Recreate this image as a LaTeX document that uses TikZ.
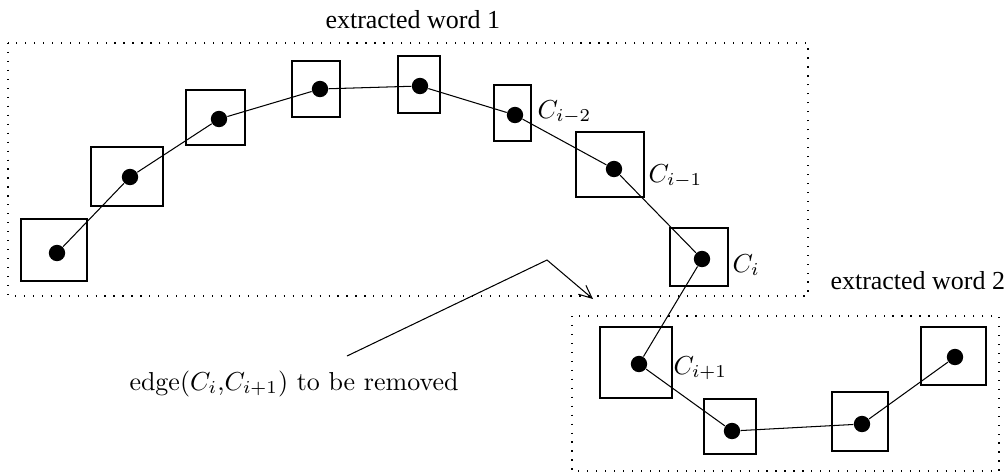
\documentclass[tikz,border=0pt]{standalone}
\usepackage{amsmath, amssymb}
\usepackage{fontspec}
\newfontfamily\timesfont{Liberation Serif}
\usetikzlibrary{arrows.meta}

\begin{document}
\begin{tikzpicture}[x=0.385pt, y=-0.385pt,
    box/.style 2 args={draw, minimum width=#1*0.385pt, minimum height=#2*0.385pt},
    dot/.style={circle, fill, inner sep=0pt, minimum size=6.3pt},
    wordbox/.style={line width=0.45pt, dash pattern=on 0.45pt off 3pt},
    lbl/.style={anchor=base west, inner sep=0pt}]
  \useasboundingbox (0,0) rectangle (1007,474);

  % extracted word 1
  \draw[wordbox] (8,43) rectangle (808,296);
  \node[lbl, font=\timesfont] (t1) at (325,28) {extracted word 1};
  \node[box={66}{62}] (b1) at (54,250) {};
  \node[box={72}{59}] (b2) at (127,176.5) {};
  \node[box={59}{55}] (b3) at (215.5,117.5) {};
  \node[box={48}{56}] (b4) at (316,89) {};
  \node[box={42}{57}] (b5) at (419,84.5) {};
  \node[box={37}{56}] (b6) at (512.5,113) {};
  \node[box={68}{65}] (b7) at (610,164.5) {};
  \node[box={58}{58}] (b8) at (699,257) {};
  \node[dot] (a1) at (57,253) {};
  \node[dot] (a2) at (130,177) {};
  \node[dot] (a3) at (219,119) {};
  \node[dot] (a4) at (320,89) {};
  \node[dot] (a5) at (420,86) {};
  \node[dot] (a6) at (515,115) {};
  \node[dot] (a7) at (614,169) {};
  \node[dot] (a8) at (702,259) {};
  \node[lbl] (l6) at (537,118) {$C_{i-2}$};
  \node[lbl] (l7) at (648,182) {$C_{i-1}$};
  \node[lbl] (l8) at (732,272) {$C_i$};

  % extracted word 2
  \draw[wordbox] (572,316) rectangle (999,471);
  \node[lbl, font=\timesfont] (t2) at (830,289) {extracted word 2};
  \node[box={72}{71}] (w1) at (636,362.5) {};
  \node[box={52}{55}] (w2) at (730,426.5) {};
  \node[box={56}{59}] (w3) at (860,421.5) {};
  \node[box={65}{58}] (w4) at (953.5,356) {};
  \node[dot] (d1) at (639,364) {};
  \node[dot] (d2) at (732,431) {};
  \node[dot] (d3) at (862,424) {};
  \node[dot] (d4) at (955,357) {};
  \node[lbl] (l9) at (673,374) {$C_{i+1}$};

  \draw (a1) -- (a2) -- (a3) -- (a4) -- (a5) -- (a6) -- (a7) -- (a8) -- (d1)
        -- (d2) -- (d3) -- (d4);

  % the edge to cut
  \node[lbl] (rm) at (129,390) {edge($C_i$,$C_{i+1}$) to be removed};
  \coordinate (s) at (347,356);
  \coordinate (k) at (547,260);
  \coordinate (e) at (593,299);
  \draw[-{Straight Barb[length=5pt, width=4.5pt]}] (s) -- (k) -- (e);
\end{tikzpicture}
\end{document}
